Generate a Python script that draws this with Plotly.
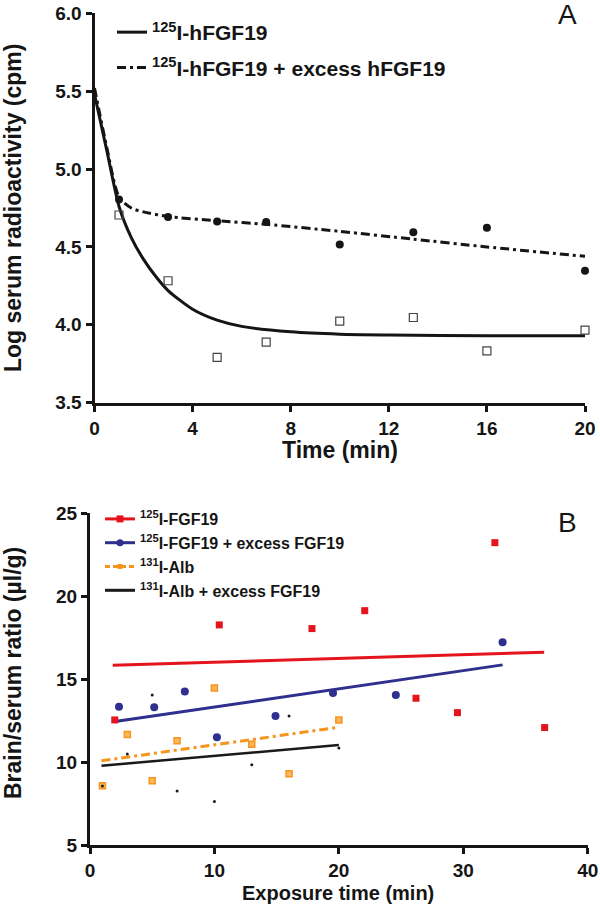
import plotly.graph_objects as go

FONT = "Liberation Sans, Arial, sans-serif"
INK = "#151515"

# ---------------- Panel A data ----------------
time_a = [1, 3, 5, 7, 10, 13, 16, 20]
hfgf19_obs = [4.705, 4.283, 3.791, 3.889, 4.024, 4.047, 3.833, 3.966]
excess_obs = [4.805, 4.692, 4.664, 4.660, 4.516, 4.595, 4.623, 4.347]

fit_t_solid = [0, 0.5, 1, 1.5, 2, 2.5, 3, 4, 5, 6, 8, 10, 12, 16, 20]
fit_solid = [5.48, 5.12, 4.76, 4.56, 4.42, 4.31, 4.22, 4.10, 4.03, 3.99, 3.955, 3.94, 3.935, 3.93, 3.93]
fit_t_dash = [0, 0.5, 1, 1.5, 2, 3, 5, 7, 10, 13, 16, 20]
fit_dash = [5.52, 5.14, 4.82, 4.75, 4.725, 4.695, 4.668, 4.645, 4.60, 4.55, 4.50, 4.44]

# ---------------- Panel B data ----------------
red_t = [1.99, 10.39, 17.84, 22.08, 26.2, 29.53, 32.54, 36.54]
red_v = [12.54, 18.27, 18.05, 19.13, 13.85, 12.98, 23.23, 12.08]
blue_t = [2.33, 5.16, 7.62, 10.2, 14.91, 19.53, 24.58, 33.16]
blue_v = [13.34, 13.30, 14.25, 11.50, 12.78, 14.17, 14.05, 17.23]
alb_t = [1, 3, 5, 7, 10, 13, 16, 20]
alb_v = [8.58, 11.67, 8.88, 11.29, 14.47, 11.07, 9.30, 12.54]
albx_t = [1, 3, 5, 7, 10, 13, 16, 20]
albx_v = [8.56, 10.49, 14.05, 8.26, 7.63, 9.84, 12.78, 10.85]

red_fit_t = [1.83, 36.5]
red_fit_v = [15.84, 16.62]
blue_fit_t = [2.15, 33.16]
blue_fit_v = [12.46, 15.86]
alb_fit_t = [0.92, 20]
alb_fit_v = [10.08, 12.10]
albx_fit_t = [0.92, 20]
albx_fit_v = [9.78, 11.03]

names_a = ["<sup>125</sup>I-hFGF19", "<sup>125</sup>I-hFGF19 + excess hFGF19"]
names_b = ["<sup>125</sup>I-FGF19", "<sup>125</sup>I-FGF19 + excess FGF19",
           "<sup>131</sup>I-Alb", "<sup>131</sup>I-Alb + excess FGF19"]

RED = "#e3141b"
BLUE = "#2e2f8e"
ORANGE = "#f7941d"
BLACK = "#1a1a1a"
DASHDOT = "9px,4px,3px,4px"

fig = go.Figure()

# Panel A
fig.add_trace(go.Scatter(x=fit_t_solid, y=fit_solid, mode="lines", name=names_a[0],
                         line=dict(color=INK, width=3, shape="spline", smoothing=0.7),
                         legendgroup="a1", xaxis="x", yaxis="y", legend="legend"))
fig.add_trace(go.Scatter(x=fit_t_dash, y=fit_dash, mode="lines", name=names_a[1],
                         line=dict(color=INK, width=3, dash=DASHDOT, shape="spline", smoothing=0.7),
                         legendgroup="a2", xaxis="x", yaxis="y", legend="legend"))
fig.add_trace(go.Scatter(x=time_a, y=hfgf19_obs, mode="markers", showlegend=False,
                         marker=dict(symbol="square-open", size=8, color="#444", line=dict(width=1.2)),
                         cliponaxis=False, xaxis="x", yaxis="y"))
fig.add_trace(go.Scatter(x=time_a, y=excess_obs, mode="markers", showlegend=False,
                         marker=dict(symbol="circle", size=8, color=INK),
                         cliponaxis=False, xaxis="x", yaxis="y"))

# Panel B fit lines
fig.add_trace(go.Scatter(x=red_fit_t, y=red_fit_v, mode="lines", showlegend=False,
                         line=dict(color=RED, width=3), xaxis="x2", yaxis="y2"))
fig.add_trace(go.Scatter(x=blue_fit_t, y=blue_fit_v, mode="lines", showlegend=False,
                         line=dict(color=BLUE, width=3), xaxis="x2", yaxis="y2"))
fig.add_trace(go.Scatter(x=alb_fit_t, y=alb_fit_v, mode="lines", showlegend=False,
                         line=dict(color=ORANGE, width=3, dash=DASHDOT), xaxis="x2", yaxis="y2"))
fig.add_trace(go.Scatter(x=albx_fit_t, y=albx_fit_v, mode="lines", showlegend=False,
                         line=dict(color=BLACK, width=2.5), xaxis="x2", yaxis="y2"))

# Panel B points
fig.add_trace(go.Scatter(x=red_t, y=red_v, mode="markers", showlegend=False,
                         marker=dict(symbol="square", size=7, color=RED),
                         cliponaxis=False, xaxis="x2", yaxis="y2"))
fig.add_trace(go.Scatter(x=blue_t, y=blue_v, mode="markers", showlegend=False,
                         marker=dict(symbol="circle", size=8, color=BLUE),
                         cliponaxis=False, xaxis="x2", yaxis="y2"))
fig.add_trace(go.Scatter(x=alb_t, y=alb_v, mode="markers", showlegend=False,
                         marker=dict(symbol="square", size=6, color="#fbb85a",
                                     line=dict(color=ORANGE, width=1.5)),
                         cliponaxis=False, xaxis="x2", yaxis="y2"))
fig.add_trace(go.Scatter(x=albx_t, y=albx_v, mode="markers", showlegend=False,
                         marker=dict(symbol="circle", size=3, color=BLACK),
                         cliponaxis=False, xaxis="x2", yaxis="y2"))

# Panel B legend entries
leg_styles = [
    dict(line=dict(color=RED, width=3), marker=dict(symbol="square", size=7, color=RED)),
    dict(line=dict(color=BLUE, width=3), marker=dict(symbol="circle", size=7, color=BLUE)),
    dict(line=dict(color=ORANGE, width=3, dash="5px,3px"), marker=dict(symbol="square", size=5, color=ORANGE)),
    dict(line=dict(color=BLACK, width=3), marker=dict(symbol="circle", size=2, color=BLACK)),
]
for nm, st in zip(names_b, leg_styles):
    fig.add_trace(go.Scatter(x=[None], y=[None], mode="lines+markers", name=nm,
                             xaxis="x2", yaxis="y2", legend="legend2", **st))

axis_common = dict(showline=True, linewidth=3, linecolor=INK, ticks="outside", ticklen=6,
                   tickwidth=2.5, tickcolor=INK, showgrid=False, zeroline=False,
                   automargin=False,
                   tickfont=dict(family=FONT, size=19, color=INK, weight="bold"))


def ann(text, x, y, size, bold=True, angle=0):
    return dict(text=text, x=x / 600, y=1 - y / 905, xref="paper", yref="paper",
                showarrow=False, xanchor="center", yanchor="middle", textangle=angle,
                font=dict(family=FONT, size=size, color=INK, weight="bold" if bold else "normal"))


fig.update_layout(
    template="none",
    width=600, height=905, margin=dict(l=0, r=0, t=0, b=0, pad=0, autoexpand=False),
    paper_bgcolor="white", plot_bgcolor="white",
    font=dict(family=FONT, color=INK),
    xaxis=dict(domain=[94.5 / 600, 585 / 600], anchor="y", range=[0, 20],
               tickvals=[0, 4, 8, 12, 16, 20], **axis_common),
    yaxis=dict(domain=[1 - 402.7 / 905, 1 - 13.3 / 905], anchor="x", range=[3.5, 6.0],
               tickvals=[3.5, 4.0, 4.5, 5.0, 5.5, 6.0], tickformat=".1f", **axis_common),
    xaxis2=dict(domain=[90 / 600, 587.7 / 600], anchor="y2", range=[0, 40],
                tickvals=[0, 10, 20, 30, 40], **axis_common),
    yaxis2=dict(domain=[1 - 845 / 905, 1 - 513.3 / 905], anchor="x2", range=[5, 25],
                tickvals=[5, 10, 15, 20, 25], **axis_common),
    legend=dict(x=112 / 600, y=1 - 12 / 905, xanchor="left", yanchor="top",
                traceorder="grouped", tracegroupgap=5,
                bgcolor="rgba(0,0,0,0)", borderwidth=0,
                font=dict(family=FONT, size=21, color=INK, weight="bold")),
    legend2=dict(x=100 / 600, y=1 - 502 / 905, xanchor="left", yanchor="top",
                 bgcolor="rgba(0,0,0,0)", borderwidth=0,
                 font=dict(family=FONT, size=16, color=INK, weight="bold")),
    annotations=[
        ann("A", 567, 15, 28, bold=False),
        ann("B", 567, 522, 28, bold=False),
        ann("Log serum radioactivity (cpm)", 13, 208, 23, angle=-90),
        ann("Time (min)", 340, 450, 23),
        ann("Brain/serum ratio (µl/g)", 13, 673, 23, angle=-90),
        ann("Exposure time (min)", 338, 893, 20),
    ],
)

fig.write_html("out.html", config={"displayModeBar": False},
               post_script="document.body.style.margin='0px';")
